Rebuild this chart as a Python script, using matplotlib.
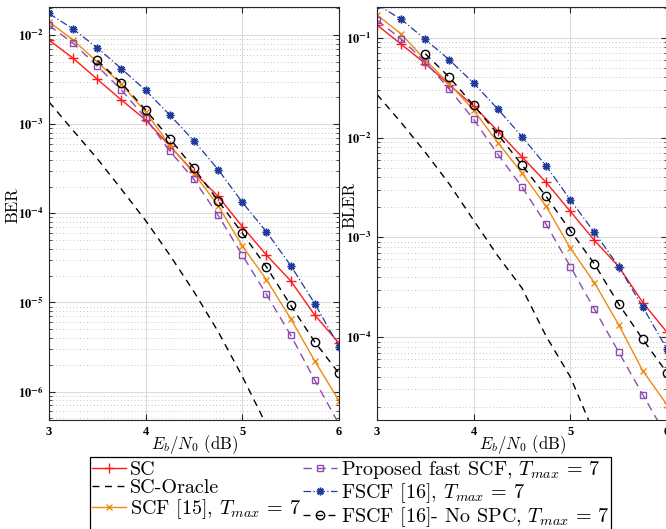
import matplotlib
matplotlib.use("Agg")
import matplotlib.pyplot as plt
from matplotlib.ticker import NullFormatter

plt.rcParams['font.family'] = 'cmr10'
plt.rcParams['mathtext.fontset'] = 'cm'
plt.rcParams['axes.formatter.use_mathtext'] = True

snr = [3, 3.25, 3.5, 3.75, 4, 4.25, 4.5, 4.75, 5, 5.25, 5.5, 5.75, 6]
snr_oracle = snr[:10]
snr_nospc = snr[2:]

# BER (left)
sc_ber = [8.8e-3, 5.5e-3, 3.2e-3, 1.87e-3, 1.12e-3, 5.7e-4, 2.9e-4, 1.55e-4, 7.1e-5, 3.4e-5, 1.75e-5, 7.2e-6, 3.5e-6]
oracle_ber = [1.78e-3, 8.5e-4, 4.1e-4, 1.86e-4, 8.3e-5, 3.4e-5, 1.32e-5, 4.7e-6, 1.48e-6, 4.2e-7]
scf_ber = [1.41e-2, 8.8e-3, 5.0e-3, 2.8e-3, 1.38e-3, 5.8e-4, 2.8e-4, 1.22e-4, 4.3e-5, 1.8e-5, 6.6e-6, 2.2e-6, 7.9e-7]
proposed_ber = [1.29e-2, 8.1e-3, 4.5e-3, 2.42e-3, 1.17e-3, 5.0e-4, 2.4e-4, 9.5e-5, 3.4e-5, 1.23e-5, 4.3e-6, 1.34e-6, 4.3e-7]
fscf_ber = [1.75e-2, 1.17e-2, 7.2e-3, 4.2e-3, 2.4e-3, 1.27e-3, 6.5e-4, 3.1e-4, 1.33e-4, 6.2e-5, 2.6e-5, 9.7e-6, 3.2e-6]
nospc_ber = [5.2e-3, 2.9e-3, 1.45e-3, 6.9e-4, 3.2e-4, 1.38e-4, 6.0e-5, 2.5e-5, 9.3e-6, 3.6e-6, 1.6e-6]

# BLER (right)
sc_bler = [0.134, 8.6e-2, 5.5e-2, 3.36e-2, 2.07e-2, 1.16e-2, 6.4e-3, 3.55e-3, 1.82e-3, 9.3e-4, 5.1e-4, 2.22e-4, 1.12e-4]
oracle_bler = [2.7e-2, 1.41e-2, 7.1e-3, 3.4e-3, 1.48e-3, 6.5e-4, 3.1e-4, 1.02e-4, 4.0e-5, 1.07e-5]
scf_bler = [0.169, 0.109, 5.98e-2, 3.43e-2, 1.88e-2, 8.9e-3, 4.4e-3, 2.04e-3, 7.8e-4, 3.5e-4, 1.33e-4, 4.6e-5, 2.1e-5]
proposed_bler = [0.150, 9.7e-2, 5.7e-2, 3.04e-2, 1.52e-2, 6.8e-3, 3.2e-3, 1.35e-3, 5.1e-4, 1.9e-4, 7.1e-5, 2.65e-5, 1.0e-5]
fscf_bler = [0.215, 0.153, 9.6e-2, 5.98e-2, 3.5e-2, 1.93e-2, 1.02e-2, 5.2e-3, 2.37e-3, 1.12e-3, 5.1e-4, 2.0e-4, 7.6e-5]
nospc_bler = [6.9e-2, 4.0e-2, 2.1e-2, 1.08e-2, 5.3e-3, 2.57e-3, 1.17e-3, 5.4e-4, 2.15e-4, 9.5e-5, 4.4e-5]

labels = ['SC', 'SC-Oracle', r'SCF [15], $T_{max}$ = 7',
          r'Proposed fast SCF, $T_{max}$ = 7', r'FSCF [16], $T_{max}$ = 7',
          r'FSCF [16]- No SPC, $T_{max}$ = 7']

red = '#ff1a1a'
orange = '#ee8a12'
purple = '#8e4cb0'
blue = '#1f3c9c'
asterisk = (8, 2, 0)


def panel(ax, sc, oracle, scf, prop, fscf, nospc, yticks, ylabels, ylim, ylabel, lx):
    hs = []
    hs += ax.plot(snr, sc, color=red, lw=1, marker='+', ms=7, mew=1)
    hs += ax.plot(snr_oracle, oracle, color='black', lw=1, ls=(0, (5, 4)))
    hs += ax.plot(snr, scf, color=orange, lw=1, marker='x', ms=5, mew=1)
    hs += ax.plot(snr, prop, color=purple, lw=1, ls=(0, (6, 4)), marker='s', ms=5,
                  mfc='none', mew=1)
    hs += ax.plot(snr, fscf, color=blue, lw=0.9, ls=(0, (6, 2, 1, 2)), marker=asterisk,
                  ms=5.5, mew=1.1)
    hs += ax.plot(snr_nospc, nospc, color='black', lw=1, ls=(0, (5, 4)), marker='o',
                  ms=6, mfc='none', mew=1)
    ax.set_yscale('log')
    ax.set_xlim(3, 6)
    ax.set_ylim(*ylim)
    ax.set_xticks([3, 4, 5, 6], labels=['3', '4', '5', '6'],
                  fontfamily='Liberation Serif', fontweight='bold', fontsize=9)
    ax.set_yticks(yticks, labels=ylabels, math_fontfamily='stix',
                  fontweight='bold', fontsize=9)
    ax.yaxis.set_minor_formatter(NullFormatter())
    ax.grid(which='major', color='#dcdcdc', lw=0.8)
    ax.grid(which='minor', axis='y', color='#c4c4c4', lw=0.7, ls=(0, (1, 2.5)))
    ax.tick_params(which='both', direction='in', top=True, right=True, color='#262626')
    ax.tick_params(which='major', length=4, pad=4)
    ax.tick_params(which='minor', length=2)
    for s in ax.spines.values():
        s.set_color('#262626')
    ax.set_xlabel(r'$E_b/N_0$ (dB)', fontsize=12, labelpad=-3)
    ax.set_ylabel(ylabel, fontsize=12)
    ax.yaxis.set_label_coords(lx, 0.52)
    return hs


fig = plt.figure(figsize=(6.66, 5.29), dpi=100)
ax1 = fig.add_axes([49/666, 1-420/529, 290/666, 413/529])
ax2 = fig.add_axes([377/666, 1-420/529, 290/666, 413/529])

hs = panel(ax1, sc_ber, oracle_ber, scf_ber, proposed_ber, fscf_ber, nospc_ber,
           [1e-6, 1e-5, 1e-4, 1e-3, 1e-2],
           [r'$\mathbf{10^{-6}}$', r'$\mathbf{10^{-5}}$', r'$\mathbf{10^{-4}}$',
            r'$\mathbf{10^{-3}}$', r'$\mathbf{10^{-2}}$'],
           (4.8e-7, 2.07e-2), 'BER', -0.1)
panel(ax2, sc_bler, oracle_bler, scf_bler, proposed_bler, fscf_bler, nospc_bler,
      [1e-4, 1e-3, 1e-2, 1e-1],
      [r'$\mathbf{10^{-4}}$', r'$\mathbf{10^{-3}}$', r'$\mathbf{10^{-2}}$',
       r'$\mathbf{10^{-1}}$'],
      (1.48e-5, 0.203), 'BLER', -0.068)

leg = fig.legend(hs, labels, ncol=2, loc='upper left',
                 bbox_to_anchor=(90/666, 1-457/529), fontsize=14.5,
                 frameon=True, fancybox=False, edgecolor='black', framealpha=1,
                 handlelength=1.7, handletextpad=0.2, columnspacing=0.1,
                 labelspacing=0.02, borderpad=0.08, borderaxespad=0, numpoints=1)
leg.get_frame().set_linewidth(0.9)

plt.savefig('out.png', dpi=100)
